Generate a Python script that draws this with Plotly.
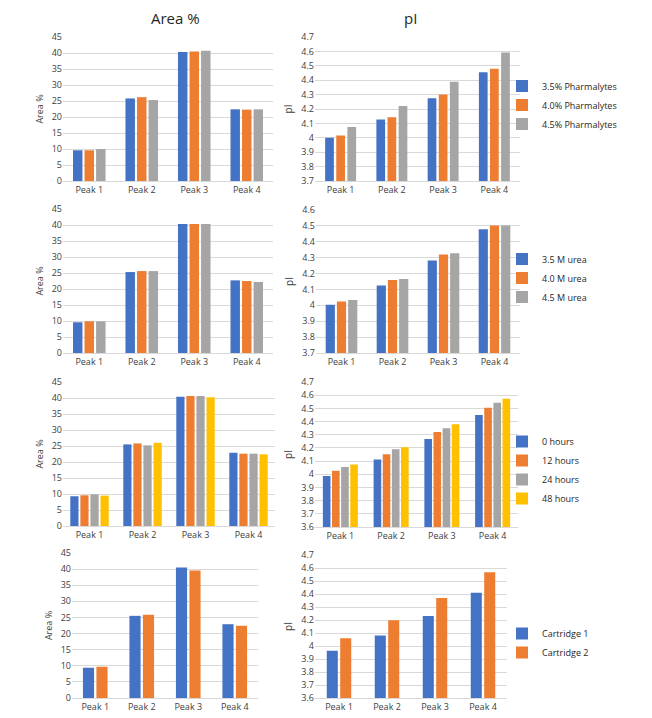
import plotly.graph_objects as go

peaks = ["Peak 1", "Peak 2", "Peak 3", "Peak 4"]

# Row 1: Pharmalytes
pharm_names = ["3.5% Pharmalytes", "4.0% Pharmalytes", "4.5% Pharmalytes"]
pharm_area_35 = [9.6, 25.8, 40.3, 22.4]
pharm_area_40 = [9.6, 26.2, 40.5, 22.3]
pharm_area_45 = [10.0, 25.3, 40.7, 22.4]
pharm_pi_35 = [4.00, 4.127, 4.275, 4.455]
pharm_pi_40 = [4.016, 4.143, 4.30, 4.48]
pharm_pi_45 = [4.075, 4.22, 4.39, 4.593]

# Row 2: Urea
urea_names = ["3.5 M urea", "4.0 M urea", "4.5 M urea"]
urea_area_35 = [9.6, 25.3, 40.3, 22.7]
urea_area_40 = [9.9, 25.6, 40.3, 22.5]
urea_area_45 = [9.9, 25.6, 40.3, 22.2]
urea_pi_35 = [4.003, 4.125, 4.282, 4.479]
urea_pi_40 = [4.024, 4.16, 4.32, 4.502]
urea_pi_45 = [4.033, 4.165, 4.328, 4.502]

# Row 3: Hours
hour_names = ["0 hours", "12 hours", "24 hours", "48 hours"]
hour_area_0 = [9.3, 25.5, 40.4, 22.9]
hour_area_12 = [9.6, 25.8, 40.6, 22.6]
hour_area_24 = [9.9, 25.2, 40.6, 22.6]
hour_area_48 = [9.5, 26.0, 40.2, 22.4]
hour_pi_0 = [3.986, 4.113, 4.268, 4.449]
hour_pi_12 = [4.027, 4.151, 4.32, 4.505]
hour_pi_24 = [4.055, 4.19, 4.35, 4.543]
hour_pi_48 = [4.075, 4.205, 4.38, 4.573]

# Row 4: Cartridges
cart_names = ["Cartridge 1", "Cartridge 2"]
cart_area_1 = [9.4, 25.5, 40.5, 22.9]
cart_area_2 = [9.7, 25.8, 39.6, 22.4]
cart_pi_1 = [3.963, 4.081, 4.23, 4.41]
cart_pi_2 = [4.06, 4.199, 4.37, 4.567]

colors = ["#4472C4", "#ED7D31", "#A5A5A5", "#FFC000"]

OFF = 8  # default page body margin
W, H = 652 - 2 * OFF + OFF, 718 - 2 * OFF + OFF

def px(a):
    return (a - OFF) / W

def py(a):
    return 1 - (a - OFF) / H

def xd(a, b):
    return [px(a), px(b)]

def yd(top, bottom):
    return [py(bottom), py(top)]

panels = [
    (63, 273, 37, 181, [pharm_area_35, pharm_area_40, pharm_area_45], pharm_names, [0, 45], 5, 0.18, 0.22, "legend", True),
    (315, 520, 37, 181, [pharm_pi_35, pharm_pi_40, pharm_pi_45], pharm_names, [3.7, 4.7], 0.1, 0.17, 0.217, "legend", False),
    (63, 273, 209, 353, [urea_area_35, urea_area_40, urea_area_45], urea_names, [0, 45], 5, 0.18, 0.22, "legend2", True),
    (316, 520, 210, 353, [urea_pi_35, urea_pi_40, urea_pi_45], urea_names, [3.7, 4.6], 0.1, 0.18, 0.22, "legend2", False),
    (63, 275, 382, 526, [hour_area_0, hour_area_12, hour_area_24, hour_area_48], hour_names, [0, 45], 5, 0.155, 0.19, "legend3", True),
    (315, 518, 382, 527, [hour_pi_0, hour_pi_12, hour_pi_24, hour_pi_48], hour_names, [3.6, 4.7], 0.1, 0.15, 0.18, "legend3", False),
    (72, 258, 553, 698, [cart_area_1, cart_area_2], cart_names, [0, 45], 5, 0.24, 0.29, "legend4", True),
    (315, 507, 555, 698, [cart_pi_1, cart_pi_2], cart_names, [3.6, 4.7], 0.1, 0.23, 0.28, "legend4", False),
]

fig = go.Figure()
layout = {}
tickfont = dict(family="Open Sans, sans-serif", size=9, color="#404040")
for i, (x0, x1, yt, yb, series, names, yr, dt, bw, step, leg, is_area) in enumerate(panels):
    k = i + 1
    xa = "x" if k == 1 else f"x{k}"
    ya = "y" if k == 1 else f"y{k}"
    n = len(series)
    for j, vals in enumerate(series):
        off = (j - (n - 1) / 2) * step - bw / 2
        fig.add_trace(go.Bar(
            x=peaks, y=vals, name=names[j], xaxis=xa, yaxis=ya,
            marker=dict(color=colors[j], line=dict(width=0)),
            width=bw, offset=off, legend=leg, showlegend=is_area,
        ))
    layout[f"xaxis{'' if k == 1 else k}"] = dict(
        domain=xd(x0, x1), anchor=ya, type="category",
        showline=True, linecolor="#d9d9d9", linewidth=1, showgrid=False,
        ticks="", tickfont=tickfont, fixedrange=True, automargin=False,
    )
    layout[f"yaxis{'' if k == 1 else k}"] = dict(
        domain=yd(yt, yb), anchor=xa, range=yr, dtick=dt, tick0=yr[0],
        showgrid=True, gridcolor="#d9d9d9", gridwidth=1, zeroline=False,
        showline=False, ticks="", tickfont=tickfont, automargin=False,
        title=dict(text="Area %" if is_area else "pI",
                   font=dict(family="Open Sans, sans-serif", size=9 if is_area else 10, color="#404040"),
                   standoff=6),
    )

legfont = dict(family="Open Sans, sans-serif", size=9, color="#262626")
legcenters = {"legend": 105, "legend2": 278, "legend3": 470, "legend4": 643}
for name, yc in legcenters.items():
    layout[name] = dict(x=px(502), xanchor="left", y=py(yc), yanchor="middle",
                        font=legfont, bgcolor="rgba(0,0,0,0)", itemwidth=30,
                        tracegroupgap=0)

fig.update_layout(
    width=W, height=H, margin=dict(l=0, r=0, t=0, b=0, autoexpand=False),
    paper_bgcolor="white", plot_bgcolor="white",
    font=dict(family="Open Sans, sans-serif"),
    annotations=[
        dict(text="Area %", x=px(175), y=py(18), xref="paper", yref="paper",
             xanchor="center", yanchor="middle", showarrow=False,
             font=dict(family="Open Sans, sans-serif", size=15, color="#262626")),
        dict(text="pI", x=px(410), y=py(18), xref="paper", yref="paper",
             xanchor="center", yanchor="middle", showarrow=False,
             font=dict(family="Open Sans, sans-serif", size=15, color="#262626")),
    ],
    **layout,
)

fig.write_html("out.html")
